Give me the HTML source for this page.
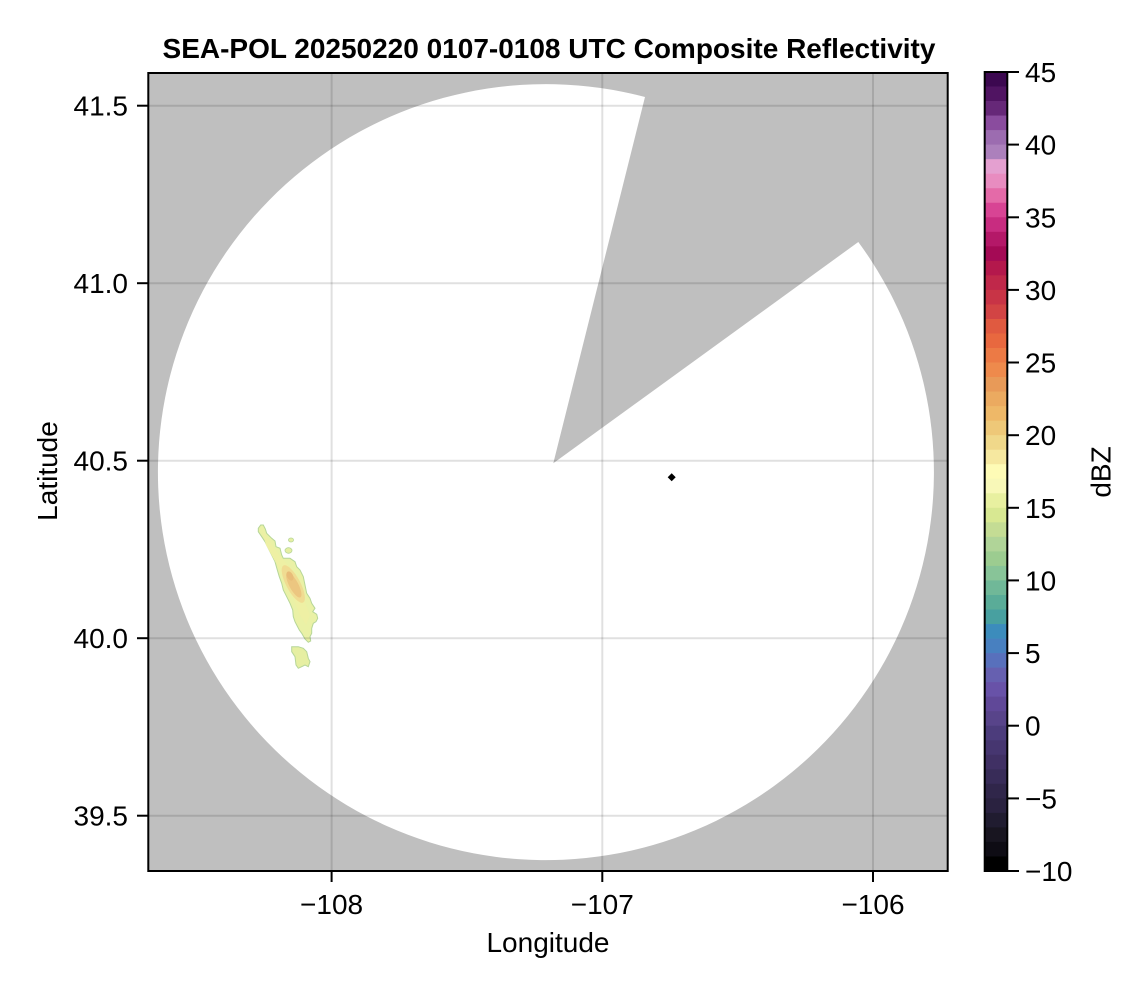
<!DOCTYPE html>
<html>
<head>
<meta charset="utf-8">
<style>
  html, body { margin: 0; padding: 0; background: #ffffff; }
  svg { display: block; }
  text { font-family: "Liberation Sans", "DejaVu Sans", sans-serif; fill: #000; }
</style>
</head>
<body>
<svg width="1146" height="990" viewBox="0 0 1146 990" xmlns="http://www.w3.org/2000/svg">
  <defs>
    <clipPath id="plotclip"><rect x="148.3" y="73" width="799.4" height="798"/></clipPath>
  </defs>

  <!-- Title -->
  <text x="549" y="58" font-size="28" font-weight="bold" text-anchor="middle">SEA-POL 20250220 0107-0108 UTC Composite Reflectivity</text>

  <!-- Plot area -->
  <g clip-path="url(#plotclip)">
    <rect x="148" y="72" width="801" height="800" fill="#bfbfbf"/>
    <path d="M645,97 A388,388 0 1 0 858.3,242 L553.3,463.3 Z" fill="#ffffff"/>

    <!-- precipitation -->
    <path d="M258.3,528.3 L260.7,525 L263.3,525 L265.3,529 L266.7,533.3 L271.7,538.3 L275,541 L276,546.7 L280,548.3 L281.7,555 L283.3,558.3 L290,558.3 L295,561.7 L296.7,566.7 L300,570 L303.3,576.7 L305,585 L306.7,593.3 L310,598.3 L311.7,603.3 L315,608.3 L312.7,611.7 L316.7,614.3 L317.7,618.3 L316,621.7 L313.3,623.3 L311.7,628.3 L311.7,633.3 L310,636.7 L310.7,641 L308.3,642.3 L305,639 L301.7,633.3 L299.3,630 L296.7,625 L295,621.7 L293.3,616.7 L292.7,610 L290,603.3 L286.7,596.7 L283.3,590 L281.7,583.3 L279.3,576.7 L277.3,570 L275,561.7 L271.7,555 L268.3,548.3 L265,541.7 L261.7,536.7 L258.3,531.7 Z" fill="#eaf1a6" stroke="#b6d698" stroke-width="1"/>
    <path d="M262,530 L266,536 L272,545 L280,556 L288,565 L296,575 L302,590 L306,605 L310,615 L306,625 L300,615 L294,600 L286,585 L280,570 L272,556 L266,545 Z" fill="#eef0a4"/>
    <ellipse cx="293.3" cy="584" rx="7" ry="21" transform="rotate(-28 293.3 584)" fill="#f0dc92"/>
    <ellipse cx="293.8" cy="585" rx="4.5" ry="14" transform="rotate(-28 293.8 585)" fill="#ecc680"/>
    <ellipse cx="290" cy="576" rx="3" ry="5" transform="rotate(-28 290 576)" fill="#e8bc78"/>
    <path d="M291.7,646.7 L298.3,646.7 L303.3,648.3 L306.7,651.7 L308.3,658.3 L310,661.7 L308.3,666.7 L305,665 L301.7,666.7 L298.3,668.3 L296,665 L295,656.7 L291.7,651.7 Z" fill="#e6efa2" stroke="#b6d698" stroke-width="1"/>
    <ellipse cx="291" cy="540" rx="2.5" ry="2" fill="#e6efa2" stroke="#b6d698" stroke-width="0.8"/>
    <ellipse cx="288.5" cy="550.5" rx="3.5" ry="2.8" fill="#e6efa2" stroke="#b6d698" stroke-width="0.8"/>

    <!-- radar marker -->
    <polygon points="671.7,473.3 675.7,477.3 671.7,481.3 667.7,477.3" fill="#000"/>

    <!-- grid -->
    <g stroke="rgba(0,0,0,0.12)" stroke-width="2">
      <line x1="331.6" y1="72" x2="331.6" y2="872"/>
      <line x1="602.3" y1="72" x2="602.3" y2="872"/>
      <line x1="873.0" y1="72" x2="873.0" y2="872"/>
      <line x1="148" y1="105.7" x2="948" y2="105.7"/>
      <line x1="148" y1="283.2" x2="948" y2="283.2"/>
      <line x1="148" y1="460.7" x2="948" y2="460.7"/>
      <line x1="148" y1="638.2" x2="948" y2="638.2"/>
      <line x1="148" y1="815.7" x2="948" y2="815.7"/>
    </g>
  </g>
  <rect x="148.3" y="73" width="799.4" height="798" fill="none" stroke="#000" stroke-width="2"/>

  <!-- axis ticks -->
  <g stroke="#000" stroke-width="2">
    <line x1="137" y1="105.7" x2="148" y2="105.7"/>
    <line x1="137" y1="283.2" x2="148" y2="283.2"/>
    <line x1="137" y1="460.7" x2="148" y2="460.7"/>
    <line x1="137" y1="638.2" x2="148" y2="638.2"/>
    <line x1="137" y1="815.7" x2="148" y2="815.7"/>
    <line x1="331.6" y1="871" x2="331.6" y2="882"/>
    <line x1="602.3" y1="871" x2="602.3" y2="882"/>
    <line x1="873.0" y1="871" x2="873.0" y2="882"/>
  </g>

  <!-- y tick labels -->
  <g font-size="28" text-anchor="end">
    <text x="128" y="115.7">41.5</text>
    <text x="128" y="293.2">41.0</text>
    <text x="128" y="470.7">40.5</text>
    <text x="128" y="648.2">40.0</text>
    <text x="128" y="825.7">39.5</text>
  </g>
  <!-- x tick labels -->
  <g font-size="28" text-anchor="middle">
    <text x="331.6" y="914">−108</text>
    <text x="602.3" y="914">−107</text>
    <text x="873.0" y="914">−106</text>
  </g>

  <!-- axis labels -->
  <text x="548" y="952" font-size="28" text-anchor="middle">Longitude</text>
  <text transform="translate(57,471) rotate(-90)" font-size="28" text-anchor="middle">Latitude</text>

  <!-- colorbar -->
  <g id="cbar">
    <rect x="984.7" y="72.000" width="22.6" height="14.9" fill="#3c0850"/>
    <rect x="984.7" y="86.527" width="22.6" height="14.9" fill="#501462"/>
    <rect x="984.7" y="101.054" width="22.6" height="14.9" fill="#662878"/>
    <rect x="984.7" y="115.581" width="22.6" height="14.9" fill="#8a4c9e"/>
    <rect x="984.7" y="130.108" width="22.6" height="14.9" fill="#9c6cb0"/>
    <rect x="984.7" y="144.635" width="22.6" height="14.9" fill="#ac80bc"/>
    <rect x="984.7" y="159.162" width="22.6" height="14.9" fill="#e4a0d0"/>
    <rect x="984.7" y="173.689" width="22.6" height="14.9" fill="#e88cc0"/>
    <rect x="984.7" y="188.216" width="22.6" height="14.9" fill="#e46aa8"/>
    <rect x="984.7" y="202.743" width="22.6" height="14.9" fill="#d84494"/>
    <rect x="984.7" y="217.270" width="22.6" height="14.9" fill="#c82c80"/>
    <rect x="984.7" y="231.797" width="22.6" height="14.9" fill="#b41868"/>
    <rect x="984.7" y="246.324" width="22.6" height="14.9" fill="#a40a55"/>
    <rect x="984.7" y="260.851" width="22.6" height="14.9" fill="#b4184c"/>
    <rect x="984.7" y="275.378" width="22.6" height="14.9" fill="#c0284a"/>
    <rect x="984.7" y="289.905" width="22.6" height="14.9" fill="#c83446"/>
    <rect x="984.7" y="304.432" width="22.6" height="14.9" fill="#d24444"/>
    <rect x="984.7" y="318.959" width="22.6" height="14.9" fill="#e05a40"/>
    <rect x="984.7" y="333.486" width="22.6" height="14.9" fill="#e8683f"/>
    <rect x="984.7" y="348.013" width="22.6" height="14.9" fill="#ec7a45"/>
    <rect x="984.7" y="362.540" width="22.6" height="14.9" fill="#ee8a4c"/>
    <rect x="984.7" y="377.067" width="22.6" height="14.9" fill="#e89a58"/>
    <rect x="984.7" y="391.594" width="22.6" height="14.9" fill="#ebaa60"/>
    <rect x="984.7" y="406.121" width="22.6" height="14.9" fill="#eeb868"/>
    <rect x="984.7" y="420.648" width="22.6" height="14.9" fill="#eec878"/>
    <rect x="984.7" y="435.175" width="22.6" height="14.9" fill="#f0d88a"/>
    <rect x="984.7" y="449.702" width="22.6" height="14.9" fill="#f6e8a0"/>
    <rect x="984.7" y="464.229" width="22.6" height="14.9" fill="#fefbb6"/>
    <rect x="984.7" y="478.756" width="22.6" height="14.9" fill="#f8f8b8"/>
    <rect x="984.7" y="493.283" width="22.6" height="14.9" fill="#e8f0a0"/>
    <rect x="984.7" y="507.810" width="22.6" height="14.9" fill="#d8e892"/>
    <rect x="984.7" y="522.337" width="22.6" height="14.9" fill="#c4dc94"/>
    <rect x="984.7" y="536.864" width="22.6" height="14.9" fill="#b0d498"/>
    <rect x="984.7" y="551.391" width="22.6" height="14.9" fill="#9ccc90"/>
    <rect x="984.7" y="565.918" width="22.6" height="14.9" fill="#88c498"/>
    <rect x="984.7" y="580.445" width="22.6" height="14.9" fill="#70b898"/>
    <rect x="984.7" y="594.972" width="22.6" height="14.9" fill="#5aac98"/>
    <rect x="984.7" y="609.499" width="22.6" height="14.9" fill="#48a0a0"/>
    <rect x="984.7" y="624.026" width="22.6" height="14.9" fill="#3c8cbc"/>
    <rect x="984.7" y="638.553" width="22.6" height="14.9" fill="#4880c0"/>
    <rect x="984.7" y="653.080" width="22.6" height="14.9" fill="#5870bc"/>
    <rect x="984.7" y="667.607" width="22.6" height="14.9" fill="#6660b0"/>
    <rect x="984.7" y="682.134" width="22.6" height="14.9" fill="#6852a8"/>
    <rect x="984.7" y="696.661" width="22.6" height="14.9" fill="#604898"/>
    <rect x="984.7" y="711.188" width="22.6" height="14.9" fill="#58448a"/>
    <rect x="984.7" y="725.715" width="22.6" height="14.9" fill="#4c3c7c"/>
    <rect x="984.7" y="740.242" width="22.6" height="14.9" fill="#463670"/>
    <rect x="984.7" y="754.769" width="22.6" height="14.9" fill="#403064"/>
    <rect x="984.7" y="769.296" width="22.6" height="14.9" fill="#382c58"/>
    <rect x="984.7" y="783.823" width="22.6" height="14.9" fill="#30264a"/>
    <rect x="984.7" y="798.350" width="22.6" height="14.9" fill="#2a2240"/>
    <rect x="984.7" y="812.877" width="22.6" height="14.9" fill="#201c30"/>
    <rect x="984.7" y="827.404" width="22.6" height="14.9" fill="#181520"/>
    <rect x="984.7" y="841.931" width="22.6" height="14.9" fill="#0e0c14"/>
    <rect x="984.7" y="856.458" width="22.6" height="14.542" fill="#000000"/>
  </g>
  <rect x="984.7" y="72" width="22.6" height="799" fill="none" stroke="#000" stroke-width="2"/>

  <!-- colorbar ticks -->
  <g stroke="#000" stroke-width="2">
    <line x1="1008" y1="72" x2="1019" y2="72"/>
    <line x1="1008" y1="144.6" x2="1019" y2="144.6"/>
    <line x1="1008" y1="217.3" x2="1019" y2="217.3"/>
    <line x1="1008" y1="289.9" x2="1019" y2="289.9"/>
    <line x1="1008" y1="362.5" x2="1019" y2="362.5"/>
    <line x1="1008" y1="435.2" x2="1019" y2="435.2"/>
    <line x1="1008" y1="507.8" x2="1019" y2="507.8"/>
    <line x1="1008" y1="580.4" x2="1019" y2="580.4"/>
    <line x1="1008" y1="653.1" x2="1019" y2="653.1"/>
    <line x1="1008" y1="725.7" x2="1019" y2="725.7"/>
    <line x1="1008" y1="798.4" x2="1019" y2="798.4"/>
    <line x1="1008" y1="871" x2="1019" y2="871"/>
  </g>
  <g font-size="28" text-anchor="start">
    <text x="1025" y="82">45</text>
    <text x="1025" y="154.6">40</text>
    <text x="1025" y="227.3">35</text>
    <text x="1025" y="299.9">30</text>
    <text x="1025" y="372.5">25</text>
    <text x="1025" y="445.2">20</text>
    <text x="1025" y="517.8">15</text>
    <text x="1025" y="590.4">10</text>
    <text x="1025" y="663.1">5</text>
    <text x="1025" y="735.7">0</text>
    <text x="1025" y="808.4">−5</text>
    <text x="1025" y="881">−10</text>
  </g>
  <text transform="translate(1110.5,472) rotate(-90)" font-size="28" text-anchor="middle">dBZ</text>
</svg>
</body>
</html>
